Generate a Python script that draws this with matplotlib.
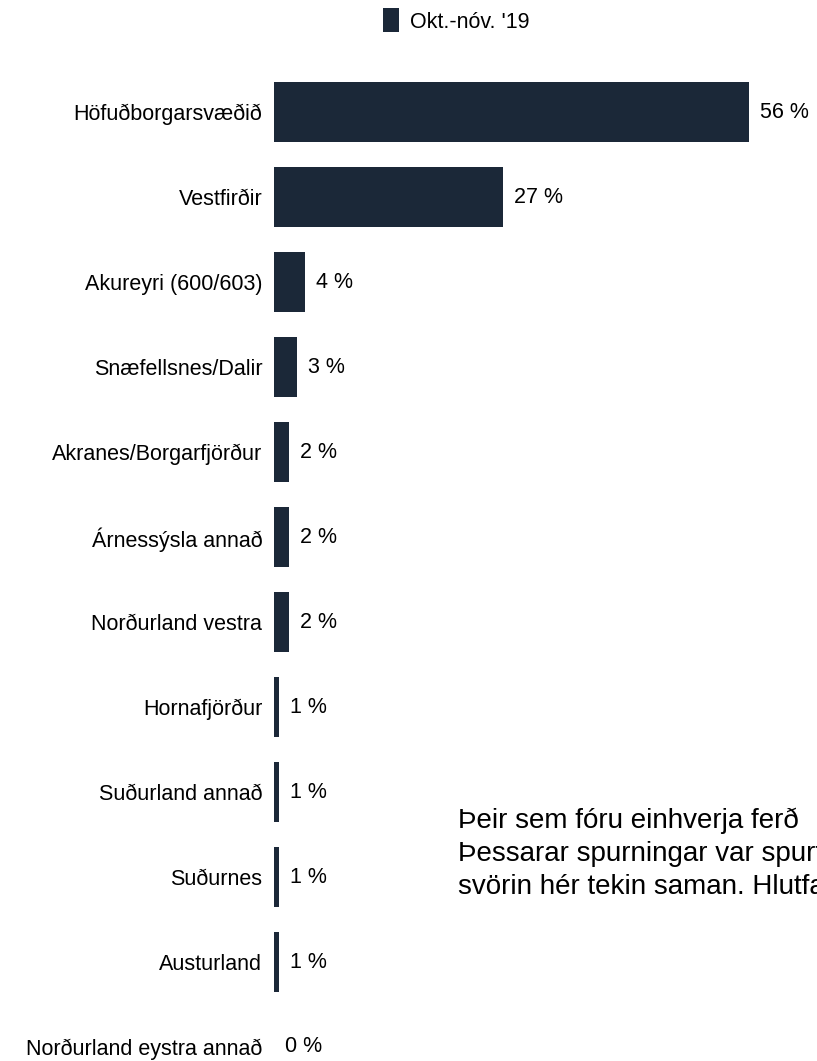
import numpy as np
import matplotlib.pyplot as plt
from matplotlib.patches import Rectangle

plt.rcParams['font.family'] = ['Liberation Sans', 'DejaVu Sans']

# regions and share of trips (%)
regions = ["Höfuðborgarsvæðið", "Vestfirðir", "Akureyri (600/603)", "Snæfellsnes/Dalir",
           "Akranes/Borgarfjörður", "Árnessýsla annað", "Norðurland vestra", "Hornafjörður",
           "Suðurland annað", "Suðurnes", "Austurland", "Norðurland eystra annað"]
shares = [56, 27, 3.6, 2.7, 1.8, 1.8, 1.8, 0.6, 0.6, 0.6, 0.6, 0.0]
series_name = "Okt.-nóv. '19"
note_lines = ["Þeir sem fóru einhverja ferð",
              "Þessarar spurningar var spurt",
              "svörin hér tekin saman. Hlutfall"]

bar_color = '#1b2838'
W, H = 817, 1061
row = 85.0  # px between rows

fig = plt.figure(figsize=(W / 100, H / 100), dpi=100)
ax = fig.add_axes([274 / W, 0, 1 - 274 / W, 1])

y = np.arange(len(regions))
ax.barh(y, shares, height=0.70, color=bar_color)

# value labels just right of each bar
for yi, v in zip(y, shares):
    ax.annotate(f"{v:.0f} %", xy=(v, yi), xytext=(11, 0), textcoords='offset pixels',
                va='center', ha='left', fontsize=15.5, color='black', annotation_clip=False)

ax.set_xlim(0, 64.0)
ax.set_ylim((H - 112) / row, -112 / row)
ax.set_yticks(y)
ax.set_yticklabels(regions, fontsize=15.5)
ax.tick_params(axis='y', length=0, pad=8.5)
ax.set_xticks([])
for s in ax.spines.values():
    s.set_visible(False)

# legend
fig.patches.append(Rectangle((383 / W, 1 - 32 / H), 16 / W, 24 / H, transform=fig.transFigure,
                             facecolor=bar_color, edgecolor='none'))
fig.text(410 / W, 1 - 22 / H, series_name, fontsize=15.5, va='center', ha='left')

# note text on the right, running off the edge
for i, line in enumerate(note_lines):
    fig.text(458 / W, 1 - (821 + 33 * i) / H, line, fontsize=20, va='center', ha='left')

fig.savefig('out.png', dpi=100)
